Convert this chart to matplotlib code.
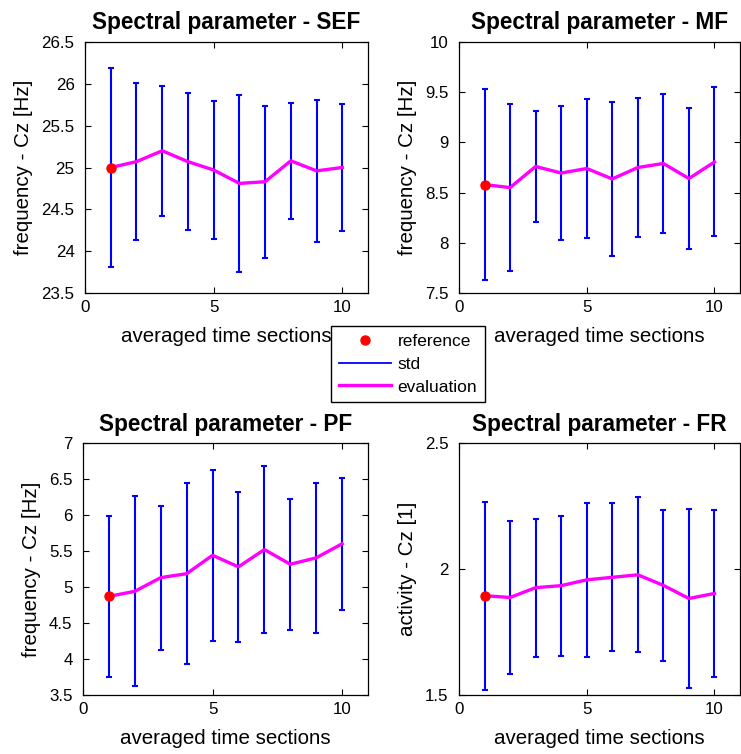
import matplotlib
matplotlib.use("Agg")
import matplotlib.pyplot as plt
import numpy as np
from matplotlib.lines import Line2D

plt.rcParams['font.family'] = ['Liberation Sans', 'DejaVu Sans']

sections = [1, 2, 3, 4, 5, 6, 7, 8, 9, 10]

sef_eval = [25.00, 25.07, 25.20, 25.07, 24.97, 24.81, 24.83, 25.08, 24.96, 25.00]
sef_std = [1.19, 0.94, 0.78, 0.82, 0.83, 1.06, 0.91, 0.69, 0.85, 0.76]
sef_ref = 25.0

mf_eval = [8.58, 8.55, 8.76, 8.695, 8.74, 8.636, 8.75, 8.79, 8.64, 8.805]
mf_std = [0.955, 0.835, 0.553, 0.67, 0.69, 0.77, 0.69, 0.69, 0.70, 0.742]
mf_ref = 8.58

pf_eval = [4.87, 4.94, 5.13, 5.185, 5.44, 5.28, 5.52, 5.316, 5.405, 5.60]
pf_std = [1.12, 1.32, 1.00, 1.254, 1.19, 1.045, 1.154, 0.91, 1.045, 0.916]
pf_ref = 4.87

fr_eval = [1.894, 1.887, 1.926, 1.934, 1.957, 1.967, 1.977, 1.935, 1.883, 1.903]
fr_std = [0.373, 0.305, 0.274, 0.278, 0.305, 0.294, 0.308, 0.299, 0.356, 0.33]
fr_ref = 1.894

titles = ["Spectral parameter - SEF", "Spectral parameter - MF",
          "Spectral parameter - PF", "Spectral parameter - FR"]
ylabels = ["frequency - Cz [Hz]", "frequency - Cz [Hz]",
           "frequency - Cz [Hz]", "activity - Cz [1]"]
xlabel = "averaged time sections"
ylims = [(23.5, 26.5), (7.5, 10), (3.5, 7), (1.5, 2.5)]
yticks = [[23.5, 24, 24.5, 25, 25.5, 26, 26.5],
          [7.5, 8, 8.5, 9, 9.5, 10],
          [3.5, 4, 4.5, 5, 5.5, 6, 6.5, 7],
          [1.5, 2, 2.5]]
legend_labels = ["reference", "std", "evaluation"]

evals = [sef_eval, mf_eval, pf_eval, fr_eval]
stds = [sef_std, mf_std, pf_std, fr_std]
refs = [sef_ref, mf_ref, pf_ref, fr_ref]

W, H = 741, 754
fig = plt.figure(figsize=(W / 100, H / 100), dpi=100)

# axes positions in pixels: left, top, right, bottom
boxes = [(85, 42, 368, 293), (459, 42, 740, 293),
         (83, 443, 368, 695), (459, 443, 740, 695)]

for i in range(4):
    l, t, r, b = boxes[i]
    ax = fig.add_axes([l / W, 1 - b / H, (r - l) / W, (b - t) / H])
    ax.errorbar(sections, evals[i], yerr=stds[i], fmt='none', ecolor=(0, 0, 1),
                elinewidth=1.5, capsize=2.5, capthick=1.5, zorder=2)
    ax.plot(sections, evals[i], color=(1, 0, 1), lw=2.4, zorder=3)
    ax.plot([sections[0]], [refs[i]], 'o', color=(1, 0, 0), ms=6.5, zorder=4)
    ax.set_xlim(0, 11)
    ax.set_ylim(*ylims[i])
    ax.set_xticks([0, 5, 10])
    ax.set_yticks(yticks[i])
    ax.set_yticklabels(["%g" % v for v in yticks[i]])
    ax.tick_params(axis='both', direction='in', top=True, right=True,
                   labelsize=12.2, length=4, width=0.8)
    ax.tick_params(axis='y', pad=7.5)
    ax.tick_params(axis='x', pad=5)
    ax.set_title(titles[i], fontsize=16.3, fontweight='bold', pad=9)
    ax.set_xlabel(xlabel, fontsize=14.8, labelpad=9)
    ax.set_ylabel(ylabels[i], fontsize=14.8, labelpad=6)
    for sp in ax.spines.values():
        sp.set_linewidth(0.9)

handles = [Line2D([], [], marker='o', color=(1, 0, 0), ls='none', ms=6.5),
           Line2D([], [], color=(0, 0, 1), lw=1.3),
           Line2D([], [], color=(1, 0, 1), lw=2.4)]
fig.legend(handles, legend_labels, loc='center',
           bbox_to_anchor=(408 / W, 1 - 364 / H), fontsize=12.5,
           frameon=True, fancybox=False, edgecolor='black', framealpha=1,
           borderpad=0.45, labelspacing=0.45, handlelength=3.0, handletextpad=0.4,
           borderaxespad=0)

fig.savefig("out.png", dpi=100)
